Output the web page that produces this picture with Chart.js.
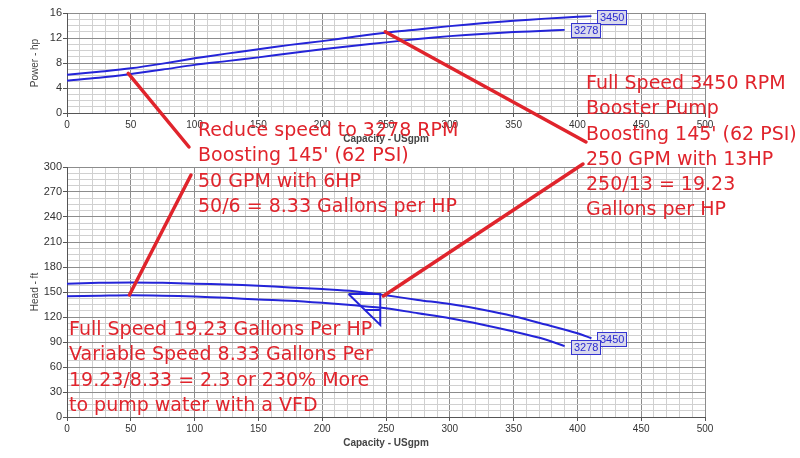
<!DOCTYPE html>
<html>
<head>
<meta charset="utf-8">
<script src="https://cdn.jsdelivr.net/npm/chart.js@4.4.0/dist/chart.umd.min.js"></script>
<style>
  body { margin: 0; background: #fff; }
  #wrap { position: relative; width: 800px; height: 458px; overflow: hidden; background: #fff; }
  #wrap canvas { position: absolute; left: 0; }
  #powerChart { top: 0; }
  #headChart { top: 150px; }
  #notes { top: 0; }
  .note { position: absolute; font-family: "DejaVu Sans"; font-size: 19px; line-height: 25.3px; color: #e0242c; white-space: nowrap; }
</style>
</head>
<body>
<div id="wrap">
  <canvas id="powerChart" width="800" height="150" style="width:800px;height:150px"></canvas>
  <canvas id="headChart" width="800" height="308" style="width:800px;height:308px"></canvas>
  <canvas id="notes" width="800" height="458" style="width:800px;height:458px"></canvas>
  <div class="note" style="left:198px; top:117px">Reduce speed to 3278 RPM<br>Boosting 145' (62 PSI)<br>50 GPM with 6HP<br>50/6 = 8.33 Gallons per HP</div>
  <div class="note" style="left:586px; top:70px">Full Speed 3450 RPM<br>Booster Pump<br>Boosting 145' (62 PSI)<br>250 GPM with 13HP<br>250/13 = 19.23<br>Gallons per HP</div>
  <div class="note" style="left:69px; top:316px">Full Speed 19.23 Gallons Per HP<br>Variable Speed 8.33 Gallons Per<br>19.23/8.33 = 2.3 or 230% More<br>to pump water with a VFD</div>
</div>
<script>
// flow points (USgpm) for each speed
const flowFull = [0, 25, 50, 75, 100, 125, 150, 175, 200, 225, 250, 275, 300, 325, 350, 375, 400, 411];
const flowReduced = [0, 25, 50, 75, 100, 125, 150, 175, 200, 225, 250, 275, 300, 325, 350, 375, 390];

// power (hp)
const powerFull = [6.1, 6.6, 7.15, 7.9, 8.75, 9.5, 10.2, 10.9, 11.5, 12.2, 12.85, 13.35, 13.9, 14.35, 14.75, 15.1, 15.4, 15.5];
const powerReduced = [5.2, 5.65, 6.25, 6.95, 7.7, 8.3, 8.9, 9.55, 10.2, 10.75, 11.3, 11.85, 12.3, 12.65, 12.95, 13.15, 13.3];

// head (ft)
const headFull = [160, 161, 161.5, 161, 160, 159, 157.5, 155.5, 153.5, 151, 146, 140.5, 135.5, 129, 121, 111, 100.5, 94.5];
const headReduced = [145, 145.5, 146, 145.5, 144.5, 143, 141, 139.5, 137, 134, 130.5, 124.5, 118.5, 111, 102.5, 93, 85];

// duty point markers on the head chart
const dutyFlow = [220.6, 245.5, 245.5, 220.6];
const dutyHead = [147.6, 147.6, 110.4, 147.6];
const dutyInnerFlow = [233.5, 245.5];
const dutyInnerHead = [128.4, 128.4];

const speedLabels = ['3450', '3278'];

// red call-out lines: data point -> page position near the text
const calloutsPower = [
  { at: [48, 6.35], to: [189, 147] },
  { at: [249.4, 13.0], to: [586, 142] }
];
const calloutsHead = [
  { at: [48.9, 146.4], to: [191, 175] },
  { at: [248, 145.2], to: [583, 164] }
];

const blue = '#2424d8';

function pts(xs, ys) {
  return xs.map((x, i) => ({ x: x, y: ys[i] }));
}

function isMul(v, m) {
  return Math.abs(v / m - Math.round(v / m)) < 1e-6;
}

const endLabels = {
  id: 'endLabels',
  afterDatasetsDraw(chart) {
    const ctx = chart.ctx;
    chart.data.datasets.forEach((ds, i) => {
      if (!ds.endLabel) return;
      const data = chart.getDatasetMeta(i).data;
      const p = data[data.length - 1];
      ctx.save();
      ctx.font = '11px "Liberation Sans"';
      const w = Math.round(ctx.measureText(ds.endLabel).width) + 6;
      const h = 15;
      const x = Math.round(p.x) + 6;
      const y = Math.round(p.y - h / 2) + 1;
      ctx.fillStyle = '#d9d9ec';
      ctx.fillRect(x, y, w, h);
      ctx.strokeStyle = '#3535d0';
      ctx.lineWidth = 1;
      ctx.strokeRect(x + 0.5, y + 0.5, w - 1, h - 1);
      ctx.fillStyle = '#2a2ad0';
      ctx.textBaseline = 'middle';
      ctx.fillText(ds.endLabel, x + 3, y + h / 2 + 0.5);
      ctx.restore();
    });
  }
};

function xAxis(titlePad, height) {
  return {
    type: 'linear', min: 0, max: 500,
    ticks: {
      stepSize: 10, autoSkip: false, maxRotation: 0, padding: 2, color: '#333',
      font: { family: 'Liberation Sans', size: 10 },
      callback: v => isMul(v, 50) ? v : ''
    },
    grid: {
      color: c => isMul(c.tick.value, 50) ? '#8c8c8c' : '#d0d0d0',
      tickLength: 4,
      tickColor: c => isMul(c.tick.value, 50) ? '#555' : 'rgba(0,0,0,0)'
    },
    border: { color: '#555' },
    title: {
      display: true, text: 'Capacity - USgpm', color: '#444',
      font: { family: 'Liberation Sans', size: 10, weight: 'bold' },
      padding: { top: 0, bottom: titlePad }
    },
    afterFit: s => { s.height = height; }
  };
}

function yAxis(title, max, step, major) {
  return {
    type: 'linear', min: 0, max: max,
    ticks: {
      stepSize: step, autoSkip: false, padding: 1, color: '#333',
      font: { family: 'Liberation Sans', size: 11 },
      callback: v => isMul(v, major) ? v : ''
    },
    grid: {
      color: c => isMul(c.tick.value, major) ? '#8c8c8c' : '#d0d0d0',
      tickLength: 4,
      tickColor: c => isMul(c.tick.value, major) ? '#555' : 'rgba(0,0,0,0)'
    },
    border: { color: '#555' },
    title: {
      display: true, text: title, color: '#444',
      font: { family: 'Liberation Sans', size: 10 },
      padding: { top: 29, bottom: 0 }
    },
    afterFit: s => { s.width = 67; }
  };
}

function curve(data, label) {
  return {
    data: data, endLabel: label, borderColor: blue, borderWidth: 2,
    pointRadius: 0, tension: 0.3, fill: false
  };
}

const common = {
  responsive: false,
  animation: false,
  parsing: true,
  plugins: { legend: { display: false }, tooltip: { enabled: false } }
};

const powerChart = new Chart(document.getElementById('powerChart'), {
  type: 'line',
  data: {
    datasets: [
      curve(pts(flowFull, powerFull), speedLabels[0]),
      curve(pts(flowReduced, powerReduced), speedLabels[1])
    ]
  },
  options: Object.assign({}, common, {
    layout: { padding: { left: 0, right: 95, top: 13, bottom: 0 } },
    scales: { x: xAxis(5, 37), y: yAxis('Power - hp', 16, 1, 4) }
  }),
  plugins: [endLabels]
});

const headChart = new Chart(document.getElementById('headChart'), {
  type: 'line',
  data: {
    datasets: [
      curve(pts(flowFull, headFull), speedLabels[0]),
      curve(pts(flowReduced, headReduced), speedLabels[1]),
      { data: pts(dutyFlow, dutyHead), borderColor: blue, borderWidth: 2, pointRadius: 0, tension: 0 },
      { data: pts(dutyInnerFlow, dutyInnerHead), borderColor: blue, borderWidth: 2, pointRadius: 0, tension: 0 }
    ]
  },
  options: Object.assign({}, common, {
    layout: { padding: { left: 0, right: 95, top: 17, bottom: 0 } },
    scales: { x: xAxis(9, 41), y: yAxis('Head - ft', 300, 7.5, 30) }
  }),
  plugins: [endLabels]
});

// red call-out lines spanning both charts
const nctx = document.getElementById('notes').getContext('2d');
nctx.strokeStyle = '#e0242c';
nctx.lineWidth = 3.5;
nctx.lineCap = 'round';
function drawCallouts(chart, list, offsetY) {
  list.forEach(c => {
    const x0 = chart.scales.x.getPixelForValue(c.at[0]);
    const y0 = chart.scales.y.getPixelForValue(c.at[1]) + offsetY;
    nctx.beginPath();
    nctx.moveTo(x0, y0);
    nctx.lineTo(c.to[0], c.to[1]);
    nctx.stroke();
  });
}
drawCallouts(powerChart, calloutsPower, 0);
drawCallouts(headChart, calloutsHead, 150);
</script>
</body>
</html>
